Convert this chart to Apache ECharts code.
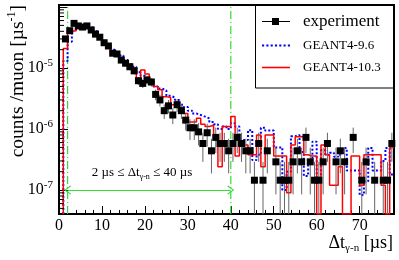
<!DOCTYPE html>
<html><head><meta charset="utf-8">
<script src="https://cdn.jsdelivr.net/npm/echarts@6/dist/echarts.min.js"></script>
<style>html,body{margin:0;padding:0;background:#fff}#c{width:399px;height:260px}</style>
</head><body><div id="c"></div>
<script>
// ---- data ----
const X_RANGE = [0, 78];
const Y_RANGE = [4.05e-8, 1.08e-4];
const BIN_START = 1;      // first bin lower edge [µs]
const BIN_WIDTH = 1;      // bin width [µs]
const X_TICKS = [0, 10, 20, 30, 40, 50, 60, 70];
const Y_LABEL_EXPONENTS = [-7, -6, -5];
const WINDOW = [2, 40];   // 2 µs ≤ Δt ≤ 40 µs
const ARROW_LEVEL = 1e-7;
const ONE_COUNT = 1.45e-7; // value of a single count (for Poisson error bars)

// experiment, bins [1,2) ... [77,78)
const expValues = [
  3.0e-5, 4.1e-5, 5.4e-5, 4.9e-5, 4.7e-5, 4.9e-5, 4.2e-5, 3.6e-5, 3.2e-5, 2.6e-5,
  2.3e-5, 1.75e-5, 1.7e-5, 1.35e-5, 1.2e-5, 1.05e-5, 9.0e-6, 6.2e-6, 5.6e-6, 6.4e-6,
  5.9e-6, 3.7e-6, 3.0e-6, 2.0e-6, 2.4e-6, 1.7e-6, 2.5e-6, 2.0e-6, 1.4e-6, 1.05e-6,
  1.05e-6, 9.0e-7, 5.8e-7, 8.7e-7, 4.4e-7, 7.3e-7, 5.8e-7, 5.8e-7, 4.4e-7, 5.8e-7,
  7.3e-7, 5.8e-7, 4.4e-7, 4.4e-7, 1.45e-7, 5.8e-7, 1.45e-7, 4.4e-7, null, 2.9e-7,
  1.45e-7, 1.45e-7, 1.45e-7, 2.9e-7, 4.4e-7, 2.9e-7, 7.3e-7, 2.9e-7, 1.45e-7, 1.45e-7,
  2.9e-7, 5.8e-7, null, 2.9e-7, 4.4e-7, 2.9e-7, null, 7.3e-7, null, 1.45e-7,
  2.9e-7, null, 1.45e-7, null, 1.45e-7, 1.45e-7, 5.8e-7
];
// GEANT4-9.6 (blue dotted)
const g4v96 = [
  1.3e-5, 2.7e-5, 4.3e-5, 4.5e-5, 5.0e-5, 4.7e-5, 4.6e-5, 4.0e-5, 3.3e-5, 2.8e-5,
  2.3e-5, 2.0e-5, 1.8e-5, 1.6e-5, 1.35e-5, 1.15e-5, 1.05e-5, 8.5e-6, 7.5e-6, 6.6e-6,
  6.0e-6, 5.0e-6, 4.6e-6, 4.3e-6, 3.5e-6, 3.3e-6, 3.0e-6, 2.5e-6, 2.3e-6, 2.0e-6,
  1.8e-6, 1.7e-6, 1.6e-6, 1.5e-6, 1.3e-6, 1.2e-6, 1.0e-6, 1.1e-6, 1.0e-6, 1.25e-6,
  1.1e-6, 5.5e-7, 6.6e-7, 9.6e-7, 3.1e-7, 3.8e-7, 1.05e-6, 9.5e-7, 9.5e-7, 5.0e-7,
  5.0e-7, 1.0e-7, 2.0e-7, 7.6e-7, 8.0e-7, 4.2e-7, 1.7e-7, 3.0e-7, 6.2e-7, 1.6e-7,
  4.5e-7, 3.8e-7, 4.1e-7, 3.5e-7, 3.8e-7, 4.9e-7, 2.1e-7, 2.1e-7, 2.1e-7, 8.3e-8,
  1.4e-7, 4.9e-7, 2.1e-7, 2.1e-7, 3.0e-7, 4.9e-7, 1.8e-7
];
// GEANT4-10.3 (red solid)
const g4v103 = [
  2.1e-5, 4.0e-5, 4.1e-5, 5.0e-5, 5.0e-5, 4.9e-5, 4.5e-5, 3.8e-5, 3.3e-5, 2.7e-5,
  2.4e-5, 1.8e-5, 1.6e-5, 1.45e-5, 1.3e-5, 1.15e-5, 1.0e-5, 6.2e-6, 9.3e-6, 8.0e-6,
  6.5e-6, 5.0e-6, 4.4e-6, 3.4e-6, 3.3e-6, 2.5e-6, 2.8e-6, 2.2e-6, 1.8e-6, 1.3e-6,
  1.3e-6, 1.5e-6, 1.2e-6, 1.1e-6, 1.15e-6, 8.0e-7, 2.4e-7, 1.1e-6, 1.1e-6, 1.6e-6,
  3.6e-7, 5.5e-7, 5.5e-7, 3.8e-7, 3.8e-7, 8.0e-7, 2.4e-7, 8.0e-7, 8.0e-7, 3.6e-7,
  3.6e-7, 3.6e-7, 9.0e-8, 5.5e-7, 7.5e-7, 7.5e-7, 3.8e-7, 3.6e-7, 3.6e-7, 0,
  5.5e-7, 3.8e-7, 1.2e-7, 1.2e-7, 2.4e-7, 0, 0, 3.6e-7, 3.6e-7, 1.2e-7,
  3.8e-7, 3.8e-7, 3.8e-7, 3.8e-7, 1.2e-7, 0, 5.0e-7
];

// ---- build library data ----
const FONT = "'Liberation Serif','DejaVu Serif',serif";
function stepData(vals) {
  const pts = [[BIN_START, Y_RANGE[0]]];
  vals.forEach((v, i) => {
    const y = v > 0 ? v : Y_RANGE[0];
    const x0 = BIN_START + i * BIN_WIDTH;
    pts.push([x0, y], [x0 + BIN_WIDTH, y]);
  });
  return pts;
}
const expPoints = [];
const expErrors = [];
expValues.forEach((v, i) => {
  if (v == null) return;
  const t = BIN_START + (i + 0.5) * BIN_WIDTH;
  const err = Math.sqrt(v * ONE_COUNT);
  expPoints.push([t, v]);
  expErrors.push([t, Math.max(v - err, Y_RANGE[0]), v + err]);
});
const minorY = [];
for (let e = -8; e <= -4; e++) for (let m = 2; m <= 9; m++) {
  const v = m * Math.pow(10, e);
  if (v > Y_RANGE[0] && v < Y_RANGE[1]) minorY.push([X_RANGE[0], v]);
}

const chevron = 'path://M5,0 L10,9 L9,10 L5,2.4 L1,10 L0,9 Z';
const GREEN = '#33dd33';
const DASHDOT = [8, 3, 1, 3];
let dotIcon = 'path://';
for (let x = 0; x < 28; x += 4) dotIcon += 'M' + x + ',5H' + (x + 2) + 'V7H' + x + 'Z ';
const lineIcon = 'path://M0,5.2H28V6.8H0Z';
const expIcon = 'path://M0,5.5H28V6.5H0Z M10,2.5H17V9.5H10Z';

const chart = echarts.init(document.getElementById('c'), null, {renderer: 'canvas'});
chart.setOption({
  animation: false,
  backgroundColor: '#fff',
  grid: {left: 59, right: 5, top: 5, bottom: 46, show: true, borderColor: '#000', borderWidth: 2, backgroundColor: 'transparent'},
  xAxis: [{
    type: 'value', min: X_RANGE[0], max: X_RANGE[1], interval: 10, position: 'bottom',
    axisLine: {show: true, lineStyle: {color: '#000', width: 2}},
    axisTick: {show: true, inside: true, length: 8, lineStyle: {color: '#000', width: 1}},
    splitLine: {show: false},
    axisLabel: {margin: 4, color: '#000', fontFamily: FONT, fontSize: 16, showMaxLabel: false,
      formatter: v => X_TICKS.includes(v) ? String(v) : ''}
  }, {
    type: 'value', min: X_RANGE[0], max: X_RANGE[1], interval: 2, position: 'bottom', offset: 0,
    axisLine: {show: false}, splitLine: {show: false}, axisLabel: {show: false},
    axisTick: {show: true, inside: true, length: 4, lineStyle: {color: '#000', width: 1}}
  }],
  yAxis: [{
    type: 'log', logBase: 10, min: Y_RANGE[0], max: Y_RANGE[1],
    axisLine: {show: true, lineStyle: {color: '#000', width: 2}},
    axisTick: {show: true, inside: true, length: 9, lineStyle: {color: '#000', width: 1}},
    splitLine: {show: false},
    axisLabel: {margin: 6, color: '#000', fontFamily: FONT,
      formatter: v => {
        const l = Math.log10(v), e = Math.round(l);
        return (Math.abs(l - e) < 1e-6 && Y_LABEL_EXPONENTS.includes(e)) ? '{a|10}{s|' + e + '}' : '';
      },
      rich: {
        a: {fontFamily: FONT, fontSize: 16, lineHeight: 20, color: '#000'},
        s: {fontFamily: FONT, fontSize: 11, lineHeight: 12, verticalAlign: 'top', color: '#000'}
      }
    }
  }],
  legend: {
    orient: 'vertical', left: 262, top: 13, itemWidth: 28, itemHeight: 12, itemGap: 9,
    padding: 0, selectedMode: false,
    textStyle: {fontFamily: FONT, fontSize: 13, color: '#000', padding: [0, 0, 0, 8]},
    data: [
      {name: 'experiment', icon: expIcon, itemStyle: {color: '#000', opacity: 1, borderWidth: 0}, textStyle: {fontSize: 17}},
      {name: 'GEANT4-9.6', icon: dotIcon, itemStyle: {color: '#0000ff', borderWidth: 0}},
      {name: 'GEANT4-10.3', icon: lineIcon, itemStyle: {color: '#ff0000', borderWidth: 0}}
    ]
  },
  graphic: [
    {type: 'rect', shape: {x: 255.5, y: 5, width: 138, height: 83}, style: {fill: 'none', stroke: '#000', lineWidth: 1}, z: 10},
    {type: 'text', x: 18, y: 5, rotation: Math.PI / 2,
      style: {text: '{a|counts /muon [µs}{s|-1}{a|]}', align: 'right', verticalAlign: 'middle',
        rich: {a: {fontFamily: FONT, fontSize: 19.5, lineHeight: 24, fill: '#000'},
               s: {fontFamily: FONT, fontSize: 12, lineHeight: 13, verticalAlign: 'top', fill: '#000'}}}},
    {type: 'text', x: 393, y: 243,
      style: {text: '{a|Δt}{s|γ-n}{a| [µs]}', align: 'right', verticalAlign: 'middle',
        rich: {a: {fontFamily: FONT, fontSize: 18, lineHeight: 22, fill: '#000'},
               s: {fontFamily: FONT, fontSize: 11, lineHeight: 12, verticalAlign: 'bottom', fill: '#000'}}}},
    {type: 'text', x: 142, y: 173,
      style: {text: '{a|2 µs ≤ Δt}{s|γ-n}{a| ≤ 40 µs}', align: 'center', verticalAlign: 'middle',
        rich: {a: {fontFamily: FONT, fontSize: 13, lineHeight: 16, fill: '#000'},
               s: {fontFamily: FONT, fontSize: 8, lineHeight: 9, verticalAlign: 'bottom', fill: '#000'}}}}
  ],
  series: [
    {name: 'window', type: 'custom', data: WINDOW.map(x => [x]), encode: {x: 0}, z: 2, silent: true,
      renderItem: (params, api) => {
        const x = api.value(0);
        const p0 = api.coord([x, Y_RANGE[0]]);
        const p1 = api.coord([x, Y_RANGE[1]]);
        return {type: 'line', shape: {x1: p0[0], y1: p0[1], x2: p1[0], y2: p1[1]},
          style: {stroke: GREEN, lineWidth: 1.2, lineDash: DASHDOT, fill: null}};
      }},
    {name: 'GEANT4-9.6', type: 'line', data: stepData(g4v96), symbol: 'none', clip: true,
      lineStyle: {color: '#0000ff', width: 2, type: [2, 2]}, itemStyle: {color: '#0000ff'}, z: 3},
    {name: 'GEANT4-10.3', type: 'line', data: stepData(g4v103), symbol: 'none', clip: true,
      lineStyle: {color: '#ff0000', width: 1.5}, itemStyle: {color: '#ff0000'}, z: 4,
      markLine: {silent: true, symbol: ['none', 'none'], label: {show: false},
        emphasis: {disabled: true},
        data: [
          [{coord: [WINDOW[0], ARROW_LEVEL], symbol: chevron, symbolSize: [9, 7], lineStyle: {color: GREEN, width: 1, type: 'solid'}},
           {coord: [WINDOW[1], ARROW_LEVEL], symbol: chevron, symbolSize: [9, 7]}]
        ]}},
    {name: 'errors', type: 'custom', data: expErrors, encode: {x: 0, y: [1, 2]}, z: 5, silent: true,
      renderItem: (params, api) => {
        const t = api.value(0);
        const p0 = api.coord([t, api.value(1)]);
        const p1 = api.coord([t, Math.min(api.value(2), Y_RANGE[1])]);
        return {type: 'line', shape: {x1: p0[0], y1: p0[1], x2: p1[0], y2: p1[1]},
          style: {stroke: '#666', lineWidth: 1}};
      }},
    {name: 'experiment', type: 'scatter', data: expPoints, symbol: 'rect', symbolSize: 7,
      itemStyle: {color: '#000', opacity: 1}, z: 6, clip: true},
    {name: 'minorY', type: 'custom', data: minorY, encode: {x: 0, y: 1}, z: 7, silent: true,
      renderItem: (params, api) => {
        const p = api.coord([api.value(0), api.value(1)]);
        return {type: 'line', shape: {x1: p[0], y1: p[1], x2: p[0] + 5, y2: p[1]},
          style: {stroke: '#000', lineWidth: 1}};
      }}
  ]
});
</script>
</body></html>
